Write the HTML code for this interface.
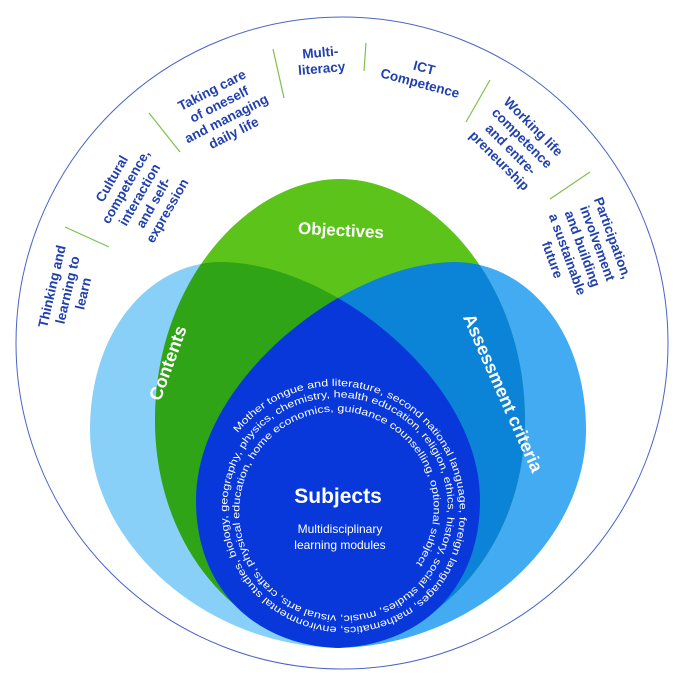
<!DOCTYPE html>
<html><head><meta charset="utf-8"><style>
html,body{margin:0;padding:0;background:#fff;}
svg{display:block;}
.r{font-family:"Liberation Sans",sans-serif;font-size:13.5px;font-weight:bold;fill:#2140b0;text-anchor:middle;}
.w{font-family:"Liberation Sans",sans-serif;font-weight:bold;fill:#fff;text-anchor:middle;}
</style></head><body>
<svg width="682" height="675" viewBox="0 0 682 675" xmlns="http://www.w3.org/2000/svg">
<defs>
<path id="C" d="M338,648 C200,645 90,540 90,430 C90,330 150,263 220,262 C330,262 480,380 480,500 C480,590 420,645 338,648 Z"/>
<path id="A" d="M338,648 C476,645 586,540 586,430 C586,330 526,263 456,262 C346,262 196,380 196,500 C196,590 256,645 338,648 Z"/>
<path id="O" d="M338,648 C230,638 155,540 155,420 C155,280 250,179 340,179 C430,179 525,280 525,420 C525,540 446,638 338,648 Z"/>
<clipPath id="cC"><use href="#C"/></clipPath>
<clipPath id="cA"><use href="#A"/></clipPath>
<path id="sp" d="M237.8,433 A124.5,124.5 0 0 1 436.6,582.8 A117.5,117.5 0 0 1 249,441.4 A110.5,110.5 0 0 1 425.5,574.4 A103.5,103.5 0 0 1 260.1,449.8 A96.5,96.5 0 0 1 414.3,566"/>
</defs>
<circle cx="342" cy="343" r="326" fill="#fff" stroke="#4a64c8" stroke-width="1"/>
<g stroke="#7cc24a" stroke-width="1.2">
<line x1="65" y1="227" x2="109" y2="247"/>
<line x1="149" y1="113" x2="180" y2="152"/>
<line x1="273" y1="49" x2="284" y2="98"/>
<line x1="366" y1="43" x2="364" y2="71"/>
<line x1="490" y1="80" x2="466" y2="122"/>
<line x1="590" y1="172" x2="550" y2="199"/>
</g>
<use href="#C" fill="#88d0f7"/>
<use href="#A" fill="#42abf2"/>
<use href="#O" fill="#5bc31a"/>
<use href="#O" fill="#2ea416" clip-path="url(#cC)"/>
<use href="#O" fill="#0b83d7" clip-path="url(#cA)"/>
<use href="#A" fill="#0838d9" clip-path="url(#cC)"/>

<text class="r" transform="translate(72,291) rotate(-77)"><tspan x="0" y="-16">Thinking and</tspan><tspan x="0" y="0">learning to</tspan><tspan x="0" y="16">learn</tspan></text>
<text class="r" transform="translate(140,195) rotate(-60)"><tspan x="0" y="-28">Cultural</tspan><tspan x="0" y="-12">competence,</tspan><tspan x="0" y="4">interaction</tspan><tspan x="0" y="20">and self-</tspan><tspan x="0" y="36">expression</tspan></text>
<text class="r" transform="translate(223,112) rotate(-27)"><tspan x="0" y="-20">Taking care</tspan><tspan x="0" y="-4">of oneself</tspan><tspan x="0" y="12">and managing</tspan><tspan x="0" y="28">daily life</tspan></text>
<text class="r" transform="translate(321,61) rotate(-5)"><tspan x="0" y="-4">Multi-</tspan><tspan x="0" y="12">literacy</tspan></text>
<text class="r" transform="translate(422,76) rotate(15)"><tspan x="0" y="-4">ICT</tspan><tspan x="0" y="12">Competence</tspan></text>
<text class="r" transform="translate(516,144) rotate(45)"><tspan x="0" y="-20">Working life</tspan><tspan x="0" y="-4">competence</tspan><tspan x="0" y="12">and entre-</tspan><tspan x="0" y="28">preneurship</tspan></text>
<text class="r" transform="translate(582,249) rotate(70)"><tspan x="0" y="-28">Participation,</tspan><tspan x="0" y="-12">involvement</tspan><tspan x="0" y="4">and building</tspan><tspan x="0" y="20">a sustainable</tspan><tspan x="0" y="36">future</tspan></text>

<text class="w" font-size="17" x="341" y="236" transform="rotate(3 341 230)">Objectives</text>
<text class="w" font-size="18" transform="translate(168,363) rotate(-70)" y="6">Contents</text>
<text class="w" font-size="18" transform="translate(503,393) rotate(66)" y="6">Assessment criteria</text>
<text class="w" font-size="21" x="338" y="503">Subjects</text>
<text font-family="Liberation Sans,sans-serif" font-size="12" fill="#fff" text-anchor="middle"><tspan x="340" y="533">Multidisciplinary</tspan><tspan x="340" y="549">learning modules</tspan></text>

<text font-family="Liberation Sans,sans-serif" font-size="10" fill="#fff"><textPath href="#sp" textLength="1725" lengthAdjust="spacingAndGlyphs">Mother tongue and literature, second national language, foreign languages, mathematics, environmental studies, biology, geography, physics, chemistry, health education, religion, ethics, history, social studies, music, visual arts, crafts, physical education, home economics, guidance counselling, optional subjects</textPath></text>
</svg>
</body></html>
